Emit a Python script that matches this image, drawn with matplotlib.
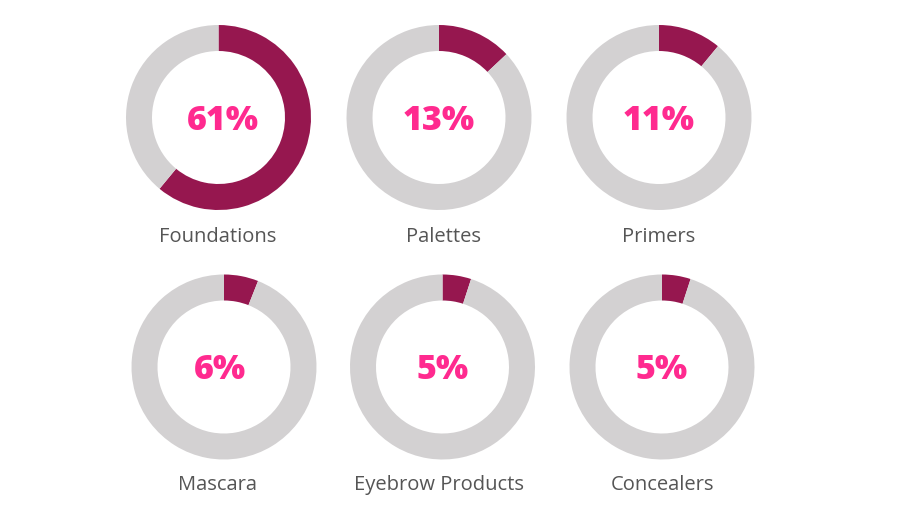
import matplotlib.pyplot as plt

# share of each category (percent)
categories = ['Foundations', 'Palettes', 'Primers', 'Mascara', 'Eyebrow Products', 'Concealers']
shares = [61, 13, 11, 6, 5, 5]

# donut centres in pixel space (y measured from the bottom)
centers_x = [218.5, 439, 659, 224, 442.5, 662]
centers_y = [404.5, 404.5, 404.5, 155, 155, 155]
pct_x = [222.5, 438.5, 659, 220, 442.5, 661.5]
pct_y = [400.5, 400.5, 400.5, 152, 152, 152]
label_x = [218, 443, 659, 218, 439, 662]
label_y = [285, 285, 285, 37, 37, 37]

fill_color = '#96174f'
rest_color = '#d3d1d2'
pct_color = '#ff2a8f'
text_color = '#555555'

fig = plt.figure(figsize=(9.18, 5.22), dpi=100)
ax = fig.add_axes([0, 0, 1, 1])

for i, name in enumerate(categories):
    val = shares[i]
    ax.pie([val, 100 - val], colors=[fill_color, rest_color], startangle=90,
           counterclock=False, center=(centers_x[i], centers_y[i]), radius=92.5,
           wedgeprops=dict(width=26, linewidth=0))
    ax.text(pct_x[i], pct_y[i], f'{val}%', ha='center', va='center', fontsize=24.5,
            fontweight='heavy', family='Open Sans', color=pct_color)
    ax.text(label_x[i], label_y[i], name, ha='center', va='center', fontsize=14.5,
            family='Open Sans', color=text_color)

ax.set_xlim(0, 918)
ax.set_ylim(0, 522)
ax.set_aspect('equal')
ax.axis('off')

fig.savefig('out.png', dpi=100)
